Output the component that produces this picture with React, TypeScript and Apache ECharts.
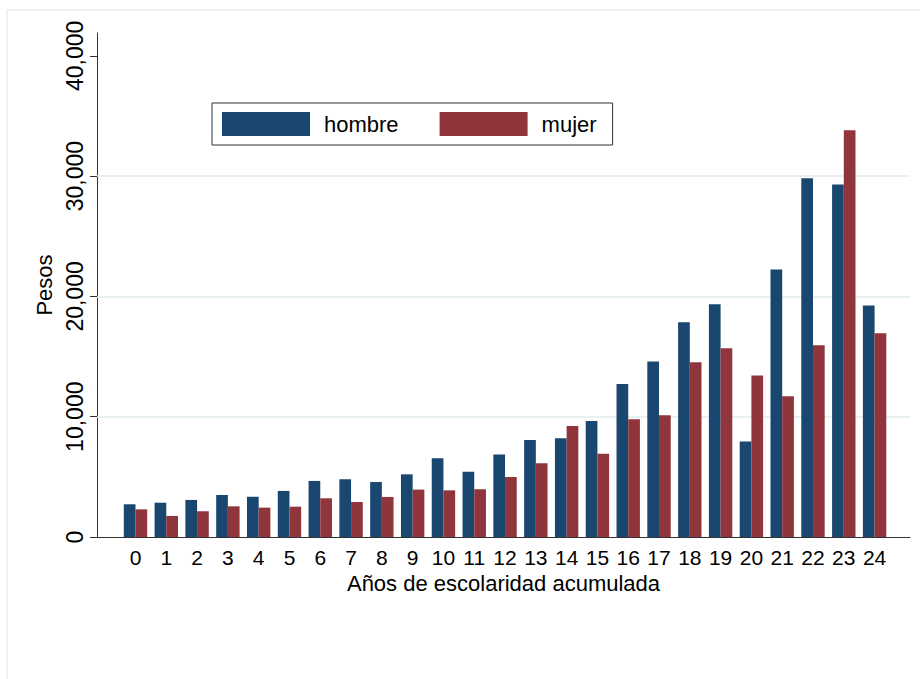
import React, { useEffect, useRef } from "react";
import * as echarts from "echarts";

const categories = ["0","1","2","3","4","5","6","7","8","9","10","11","12","13","14","15","16","17","18","19","20","21","22","23","24"];
const hombre = [2720, 2850, 3080, 3490, 3350, 3830, 4660, 4800, 4570, 5210, 6540, 5430, 6850, 8070, 8210, 9650, 12720, 14580, 17850, 19350, 7930, 22230, 29830, 29300, 19240];
const mujer = [2300, 1750, 2140, 2550, 2440, 2520, 3220, 2910, 3330, 3940, 3880, 3970, 4990, 6130, 9230, 6930, 9790, 10120, 14530, 15690, 13420, 11700, 15940, 33820, 16940];
const yTickValues = [0, 10000, 20000, 30000, 40000];
const gridLineValues = [10000, 20000, 30000];

const FONT = "'Liberation Sans', Arial, Helvetica, sans-serif";
const BLUE = "#1a476f";
const RED = "#90353b";

export default function App() {
  const ref = useRef<HTMLDivElement>(null);
  useEffect(() => {
    if (!ref.current) return;
    const chart = echarts.init(ref.current, null, { renderer: "svg" });
    const idx = categories.map((_, i) => i);
    chart.setOption({
      animation: false,
      backgroundColor: "#ffffff",
      graphic: [
        {
          type: "rect",
          shape: { x: 7, y: 10, width: 940, height: 700 },
          style: { fill: "none", stroke: "#e9edf3", lineWidth: 1.5 },
          silent: true,
          z: -10,
        },
      ],
      legend: {
        left: 212,
        top: 103,
        orient: "horizontal",
        itemWidth: 88,
        itemHeight: 24,
        itemGap: 41,
        padding: [9, 16, 9, 10],
        borderColor: "#333333",
        borderWidth: 1,
        icon: "rect",
        textStyle: { fontFamily: FONT, fontSize: 22, color: "#000", padding: [0, 0, 0, 9] },
        data: ["hombre", "mujer"],
      },
      grid: { left: 97, right: 10, top: 33, bottom: 142, containLabel: false },
      xAxis: {
        type: "value",
        min: -1.25,
        max: 25.15,
        name: "Años de escolaridad acumulada",
        nameLocation: "middle",
        nameGap: 35,
        nameTextStyle: { fontFamily: FONT, fontSize: 22, color: "#000" },
        axisLine: { show: true, onZero: false, lineStyle: { color: "#333", width: 1 } },
        axisTick: { show: false },
        splitLine: { show: false },
        axisLabel: {
          customValues: idx,
          formatter: (v: number) => categories[Math.round(v)] ?? "",
          fontFamily: FONT,
          fontSize: 21,
          color: "#000",
          margin: 10,
        },
      },
      yAxis: {
        type: "value",
        min: 0,
        max: 41900,
        name: "Pesos",
        nameLocation: "middle",
        nameRotate: 90,
        nameGap: 41,
        nameTextStyle: { fontFamily: FONT, fontSize: 22, color: "#000" },
        axisLine: { show: true, onZero: false, lineStyle: { color: "#333", width: 1 } },
        axisTick: { show: true, length: 7, customValues: yTickValues, lineStyle: { color: "#333" } },
        splitLine: { show: false },
        axisLabel: {
          customValues: yTickValues,
          rotate: 90,
          margin: 11,
          formatter: (v: number) => v.toLocaleString("en-US"),
          fontFamily: FONT,
          fontSize: 23,
          color: "#000",
        },
      },
      series: [
        {
          name: "hombre",
          type: "bar",
          barWidth: 11.7,
          barGap: "0%",
          itemStyle: { color: BLUE },
          data: hombre.map((v, i) => [i, v]),
          markLine: {
            silent: true,
            symbol: "none",
            z: 1,
            label: { show: false },
            lineStyle: { color: "#e2ebee", type: "solid", width: 1.5 },
            data: gridLineValues.map((v) => ({ yAxis: v })),
          },
        },
        {
          name: "mujer",
          type: "bar",
          barWidth: 11.7,
          barGap: "0%",
          itemStyle: { color: RED },
          data: mujer.map((v, i) => [i, v]),
        },
      ],
    });
    return () => chart.dispose();
  }, []);
  return (
    <div
      ref={ref}
      style={{ position: "fixed", left: 0, top: 0, width: 920, height: 679, background: "#fff" }}
    />
  );
}
